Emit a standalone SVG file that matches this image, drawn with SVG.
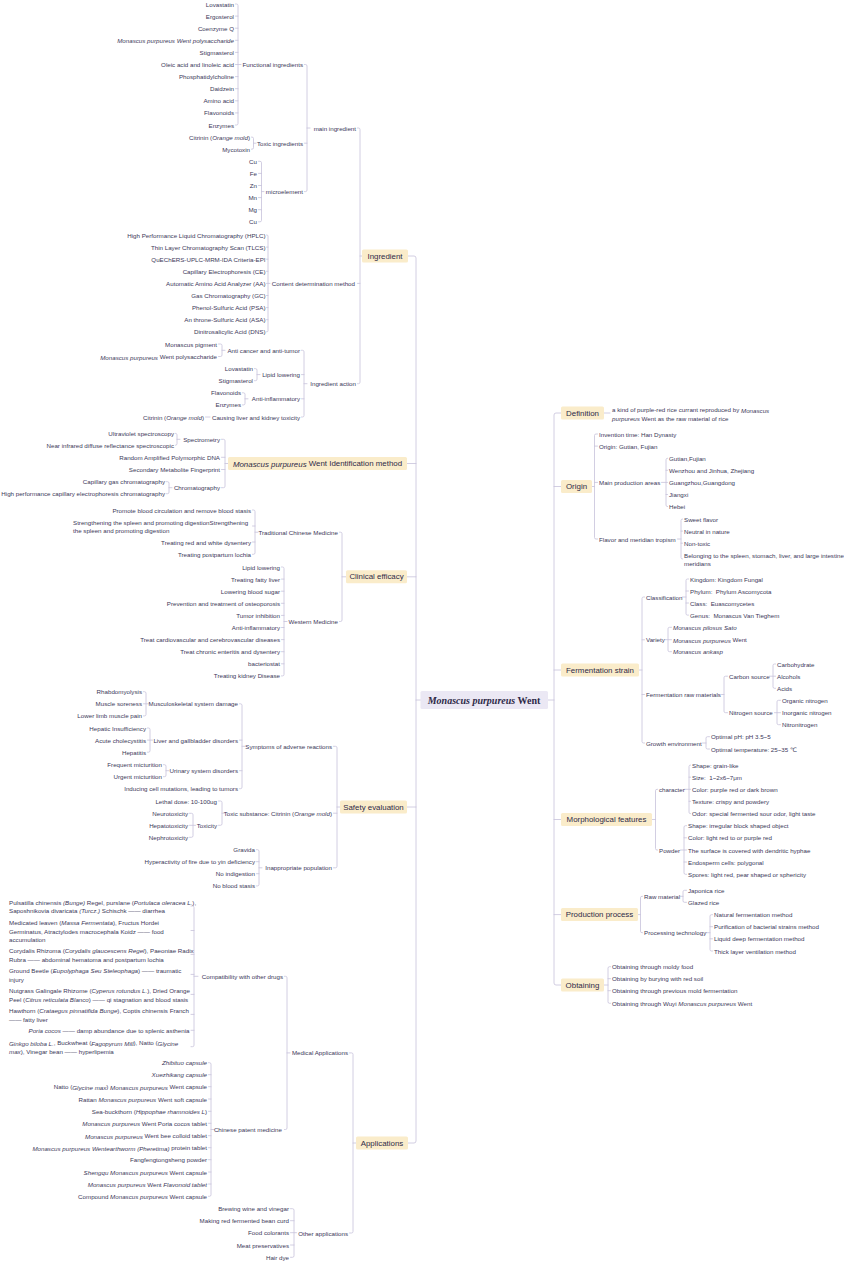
<svg xmlns="http://www.w3.org/2000/svg" width="844" height="1262" viewBox="0 0 844 1262">
<style>
.t{font-family:"Liberation Sans","DejaVu Sans",Arial,sans-serif;font-size:6.2px;fill:#3c3859;dominant-baseline:central}
.e{text-anchor:end}
.m{text-anchor:middle}
.i{font-style:italic}
.b{font-size:7.9px;fill:#2e2a48}
.bx{fill:#faecca}
.cb{fill:#ebe8f4}
.cn{font-family:"Liberation Serif","DejaVu Serif",serif;font-size:10px;font-weight:bold;fill:#2e2a48;text-anchor:middle;dominant-baseline:central}
.c{fill:none;stroke:#c6c1da;stroke-width:0.8;stroke-linecap:round}
</style>
<rect width="844" height="1262" fill="#ffffff"/>
<g id="connectors" class="c">
<path d="M408 256H414Q416 256 416 258V1141Q416 1143 414 1143H408M407 463.5H416M407 576.8H416M407 807H416M416 700H420.5"/>
<path d="M548 700H554M561 413H556Q554 413 554 415V983Q554 985 556 985H561M554 486.5H561M554 670H561M554 819.5H561M554 914.6H561"/>
<path d="M235.5 4H236.5Q238 4 238 5.5V123.5Q238 125 236.5 125H235.5M235.5 16.1H238M235.5 28.2H238M235.5 40.3H238M235.5 52.4H238M235.5 64.5H241M235.5 76.6H238M235.5 88.7H238M235.5 100.8H238M235.5 112.9H238"/>
<path d="M251.5 137.1H252Q253.5 137.1 253.5 138.6V147.7Q253.5 149.2 252 149.2H251.5M253.5 143.2H256"/>
<path d="M258.5 161.3H260Q261.5 161.3 261.5 162.8V220.3Q261.5 221.8 260 221.8H258.5M258.5 173.4H261.5M258.5 185.5H261.5M258.5 197.6H261.5M258.5 209.7H261.5M261.5 191.6H264"/>
<path d="M304.5 64.5H305.5Q307 64.5 307 66V190.1Q307 191.6 305.5 191.6H304.5M304.5 143.2H307M307 128H310"/>
<path d="M357.5 128H358.5Q360 128 360 129.5V382.2Q360 383.7 358.5 383.7H357.5M357.5 283.4H360M360 256H362"/>
<path d="M266.5 235H267Q268 235 268 236V330.8Q268 331.8 267 331.8H266.5M266.5 247.1H268M266.5 259.2H268M266.5 271.3H268M266.5 283.4H270M266.5 295.5H268M266.5 307.6H268M266.5 319.7H268"/>
<path d="M218.5 344H220.5Q222 344 222 345.5V355Q222 356.5 220.5 356.5H218.5M222 350.3H225"/>
<path d="M254.5 368.6H255.5Q257 368.6 257 370.1V379.2Q257 380.7 255.5 380.7H254.5M257 374.6H260"/>
<path d="M242.5 392.8H243.5Q245 392.8 245 394.3V403.4Q245 404.9 243.5 404.9H242.5M245 398.8H248"/>
<path d="M205.5 417H210"/>
<path d="M301.5 350.3H302.5Q304 350.3 304 351.8V415.5Q304 417 302.5 417H301.5M301.5 374.6H304M301.5 398.8H304M304 383.7H307"/>
<path d="M175.5 433.3Q177 433.3 177 434.8V443.8Q177 445.3 175.5 445.3M177 439.3H180"/>
<path d="M166.5 481.7H167.5Q169 481.7 169 483.2V492.2Q169 493.7 167.5 493.7H166.5M169 487.7H172"/>
<path d="M221.5 439.3H223.5Q225 439.3 225 440.8V486.2Q225 487.7 223.5 487.7H221.5M221.5 457.3H225M221.5 469.5H225M225 463.5H228"/>
<path d="M252.5 510H253.5Q255 510 255 511.5V552.8Q255 554.3 253.5 554.3H252.5M252.5 526H255M252.5 542H255M255 532.2H258"/>
<path d="M281.5 567H282.5Q284 567 284 568.5V674.4Q284 675.9 282.5 675.9H281.5M281.5 579.1H284M281.5 591.2H284M281.5 603.3H284M281.5 615.4H284M281.5 627.5H284M281.5 639.6H284M281.5 651.7H284M281.5 663.8H284M284 621.5H287"/>
<path d="M339.5 532.2H340.5Q342 532.2 342 533.7V620Q342 621.5 340.5 621.5H339.5M342 576.8H346"/>
<path d="M143.5 691.7H144.5Q146 691.7 146 693.2V714.4Q146 715.9 144.5 715.9H143.5M143.5 703.8H149"/>
<path d="M147.5 728H148.5Q150 728 150 729.5V750.7Q150 752.2 148.5 752.2H147.5M147.5 740.1H152.5"/>
<path d="M163.5 764.7H164.5Q166 764.7 166 766.2V775.2Q166 776.7 164.5 776.7H163.5M166 770.7H169"/>
<path d="M239.5 703.8H240.5Q242 703.8 242 705.3V787.2Q242 788.7 240.5 788.7H239.5M239.5 740.1H242M239.5 770.7H242M242 746.3H245"/>
<path d="M189.5 813.3H191.5Q193 813.3 193 814.8V835.8Q193 837.3 191.5 837.3H189.5M189.5 825.3H195.5"/>
<path d="M218.5 801H220.5Q222 801 222 802.5V823.8Q222 825.3 220.5 825.3H218.5M222 813.2H224.5"/>
<path d="M256.5 849.7H257.5Q259 849.7 259 851.2V884.4Q259 885.9 257.5 885.9H256.5M256.5 861.7H259M256.5 873.7H259M259 867.8H262"/>
<path d="M333.5 746.3H335.5Q337 746.3 337 747.8V866.3Q337 867.8 335.5 867.8H333.5M333.5 813.2H337M337 807H340"/>
<path d="M191 906H192.5Q194 906 194 907.5V1045.2Q194 1046.7 192.5 1046.7H191M191 930.5H194M191 954.4H194M191 974.4H194M191 994.4H194M191 1014.4H194M191 1030.3H194M194 976.3H198"/>
<path d="M208.5 1062.7H209.5Q211 1062.7 211 1064.2V1194.8Q211 1196.3 209.5 1196.3H208.5M208.5 1074.7H211M208.5 1086.7H211M208.5 1099H211M208.5 1111.3H211M208.5 1123.3H211M208.5 1135.7H211M208.5 1147.7H211M208.5 1159.7H211M208.5 1172H211M208.5 1184H211M211 1129.5H214"/>
<path d="M284.5 976.3H285.5Q287 976.3 287 977.8V1128Q287 1129.5 285.5 1129.5H284.5M287 1052.9H290"/>
<path d="M290.5 1208.7H292.5Q294 1208.7 294 1210.2V1255.8Q294 1257.3 292.5 1257.3H290.5M290.5 1220.7H294M290.5 1232.7H296.5M290.5 1245H294"/>
<path d="M349.5 1052.9H351.5Q353 1052.9 353 1054.4V1231.5Q353 1233 351.5 1233H349.5M353 1143H356"/>
<path d="M604 413H610"/>
<path d="M592 486.5H594.5M597.5 434H596Q594.5 434 594.5 435.5V537.5Q594.5 539 596 539H597.5M594.5 446.1H597.5M594.5 482.4H597.5"/>
<path d="M661.5 482.4H667.5M667.5 458.2Q666 458.2 666 459.7V505.1Q666 506.6 667.5 506.6M666 470.3H667.5M666 494.5H667.5"/>
<path d="M677.5 539H681M682.5 519Q681 519 681 520.5V557.5Q681 559 682.5 559M681 531.1H682.5M681 543.2H682.5"/>
<path d="M639 670H642M644.5 597H643.5Q642 597 642 598.5V741.5Q642 743 643.5 743H644.5M642 639.8H644.5M642 694.5H644.5"/>
<path d="M682.5 597H686M688.5 579H687.5Q686 579 686 580.5V613.6Q686 615.1 687.5 615.1H688.5M686 591H688.5M686 603H688.5"/>
<path d="M665.5 639.7H671.5M671.5 627.3H669.5Q668 627.3 668 628.8V650.2Q668 651.7 669.5 651.7H671.5"/>
<path d="M721.5 694.5H724M727.5 676.2H725.5Q724 676.2 724 677.7V711.2Q724 712.7 725.5 712.7H727.5"/>
<path d="M769.5 676.2H775.5M775.5 664H774.5Q773 664 773 665.5V686.8Q773 688.3 774.5 688.3H775.5"/>
<path d="M774.5 712.7H780.5M780.5 700.3H778.5Q777 700.3 777 701.8V723.2Q777 724.7 778.5 724.7H780.5"/>
<path d="M702.5 743H706M709.5 736.7H707.5Q706 736.7 706 738.2V747.5Q706 749 707.5 749H709.5"/>
<path d="M652 819.5H655.5M657.5 789.3H657Q655.5 789.3 655.5 790.8V848.5Q655.5 850 657 850H657.5"/>
<path d="M684.5 789.3H690.5M690.5 765Q689 765 689 766.5V812.2Q689 813.7 690.5 813.7M689 777.2H690.5M689 801.3H690.5"/>
<path d="M680.5 850H686.5M686.5 825.7H685.5Q684 825.7 684 827.2V872.8Q684 874.3 685.5 874.3H686.5M684 837.8H686.5M684 862H686.5"/>
<path d="M638 914.6H640.5M642.5 896.3H642Q640.5 896.3 640.5 897.8V931.2Q640.5 932.7 642 932.7H642.5"/>
<path d="M680.5 896.3H683M686.5 890.3H684.5Q683 890.3 683 891.8V900.8Q683 902.3 684.5 902.3H686.5"/>
<path d="M706.5 932.7H710M712.5 914.7H711.5Q710 914.7 710 916.2V949.5Q710 951 711.5 951H712.5M710 926.7H712.5M710 938.8H712.5"/>
<path d="M604 985H608M610.5 966.7H609.5Q608 966.7 608 968.2V1001.8Q608 1003.3 609.5 1003.3H610.5M608 978.7H610.5M608 990.7H610.5"/>
</g>
<g id="root"><rect class="cb" x="420.5" y="691" width="127.5" height="18" rx="1.5"/><text class="cn" x="484" y="700"><tspan font-style="italic">Monascus purpureus</tspan> Went</text></g>
<g id="b-ingredient"><rect class="bx" x="362" y="249.5" width="46" height="13" rx="1.5"/><text class="t b m" x="385" y="256">Ingredient</text></g>
<g id="b-ident"><rect class="bx" x="228" y="457" width="179" height="13" rx="1.5"/><text class="t b m" x="317.5" y="463.5"><tspan class="i">Monascus purpureus</tspan> Went Identification method</text></g>
<g id="b-clinical"><rect class="bx" x="346" y="570.3" width="61" height="13" rx="1.5"/><text class="t b m" x="376.5" y="576.8">Clinical efficacy</text></g>
<g id="b-safety"><rect class="bx" x="340" y="800.5" width="67" height="13" rx="1.5"/><text class="t b m" x="373.5" y="807">Safety evaluation</text></g>
<g id="b-applications"><rect class="bx" x="356" y="1136.5" width="52" height="13" rx="1.5"/><text class="t b m" x="382" y="1143">Applications</text></g>
<g id="b-definition"><rect class="bx" x="561" y="406.5" width="43" height="13" rx="1.5"/><text class="t b m" x="582.5" y="413">Definition</text></g>
<g id="b-origin"><rect class="bx" x="561" y="480" width="31" height="13" rx="1.5"/><text class="t b m" x="576.5" y="486.5">Origin</text></g>
<g id="b-fermentation"><rect class="bx" x="561" y="663.5" width="78" height="13" rx="1.5"/><text class="t b m" x="600" y="670">Fermentation strain</text></g>
<g id="b-morph"><rect class="bx" x="561" y="813" width="91" height="13" rx="1.5"/><text class="t b m" x="606.5" y="819.5">Morphological features</text></g>
<g id="b-production"><rect class="bx" x="561" y="908" width="77" height="13" rx="1.5"/><text class="t b m" x="599.5" y="914.6">Production process</text></g>
<g id="b-obtaining"><rect class="bx" x="561" y="978.5" width="43" height="13" rx="1.5"/><text class="t b m" x="582.5" y="985">Obtaining</text></g>
<g id="n-main"><text class="t e" x="356" y="128">main ingredient</text></g>
<g id="n-functional"><text class="t e" x="303" y="64.5">Functional ingredients</text></g>
<g id="n-f1"><text class="t e" x="234" y="4">Lovastatin</text></g>
<g id="n-f2"><text class="t e" x="234" y="16.1">Ergosterol</text></g>
<g id="n-f3"><text class="t e" x="234" y="28.2">Coenzyme Q</text></g>
<g id="n-f4"><text class="t e i" x="234" y="40.3">Monascus purpureus Went polysaccharide</text></g>
<g id="n-f5"><text class="t e" x="234" y="52.4">Stigmasterol</text></g>
<g id="n-f6"><text class="t e" x="234" y="64.5">Oleic acid and linoleic acid</text></g>
<g id="n-f7"><text class="t e" x="234" y="76.6">Phosphatidylcholine</text></g>
<g id="n-f8"><text class="t e" x="234" y="88.7">Daidzein</text></g>
<g id="n-f9"><text class="t e" x="234" y="100.8">Amino acid</text></g>
<g id="n-f10"><text class="t e" x="234" y="112.9">Flavonoids</text></g>
<g id="n-f11"><text class="t e" x="234" y="125">Enzymes</text></g>
<g id="n-toxic"><text class="t e" x="303" y="143.2">Toxic ingredients</text></g>
<g id="n-t1"><text class="t e" x="250" y="137.1">Citrinin (<tspan class="i">Orange mold</tspan>)</text></g>
<g id="n-t2"><text class="t e" x="250" y="149.2">Mycotoxin</text></g>
<g id="n-micro"><text class="t e" x="303" y="191.6">microelement</text></g>
<g id="n-m1"><text class="t e" x="257" y="161.3">Cu</text></g>
<g id="n-m2"><text class="t e" x="257" y="173.4">Fe</text></g>
<g id="n-m3"><text class="t e" x="257" y="185.5">Zn</text></g>
<g id="n-m4"><text class="t e" x="257" y="197.6">Mn</text></g>
<g id="n-m5"><text class="t e" x="257" y="209.7">Mg</text></g>
<g id="n-m6"><text class="t e" x="257" y="221.8">Cu</text></g>
<g id="n-content"><text class="t e" x="355" y="283.4">Content determination method</text></g>
<g id="n-c1"><text class="t e" x="265.5" y="235">High Performance Liquid Chromatography (HPLC)</text></g>
<g id="n-c2"><text class="t e" x="265.5" y="247.1">Thin Layer Chromatography Scan (TLCS)</text></g>
<g id="n-c3"><text class="t e" x="265.5" y="259.2">QuEChERS-UPLC-MRM-IDA Criteria-EPI</text></g>
<g id="n-c4"><text class="t e" x="265.5" y="271.3">Capillary Electrophoresis (CE)</text></g>
<g id="n-c5"><text class="t e" x="265.5" y="283.4">Automatic Amino Acid Analyzer (AA)</text></g>
<g id="n-c6"><text class="t e" x="265.5" y="295.5">Gas Chromatography (GC)</text></g>
<g id="n-c7"><text class="t e" x="265.5" y="307.6">Phenol-Sulfuric Acid (PSA)</text></g>
<g id="n-c8"><text class="t e" x="265.5" y="319.7">An throne-Sulfuric Acid (ASA)</text></g>
<g id="n-c9"><text class="t e" x="265.5" y="331.8">Dinitrosalicylic Acid (DNS)</text></g>
<g id="n-action"><text class="t e" x="356" y="383.7">Ingredient action</text></g>
<g id="n-a1"><text class="t e" x="300" y="350.3">Anti cancer and anti-tumor</text></g>
<g id="n-a1a"><text class="t e" x="217" y="344">Monascus pigment</text></g>
<g id="n-a1b"><text class="t e" x="217" y="356.5"><tspan class="i">Monascus purpureus</tspan> Went polysaccharide</text></g>
<g id="n-a2"><text class="t e" x="300" y="374.6">Lipid lowering</text></g>
<g id="n-a2a"><text class="t e" x="253" y="368.6">Lovastatin</text></g>
<g id="n-a2b"><text class="t e" x="253" y="380.7">Stigmasterol</text></g>
<g id="n-a3"><text class="t e" x="300" y="398.8">Anti-inflammatory</text></g>
<g id="n-a3a"><text class="t e" x="241" y="392.8">Flavonoids</text></g>
<g id="n-a3b"><text class="t e" x="241" y="404.9">Enzymes</text></g>
<g id="n-a4"><text class="t e" x="300" y="417">Causing liver and kidney toxicity</text></g>
<g id="n-a4a"><text class="t e" x="204" y="417">Citrinin (<tspan class="i">Orange mold</tspan>)</text></g>
<g id="n-spectro"><text class="t e" x="220" y="439.3">Spectrometry</text></g>
<g id="n-s1"><text class="t e" x="174" y="433.3">Ultraviolet spectroscopy</text></g>
<g id="n-s2"><text class="t e" x="174" y="445.3">Near infrared diffuse reflectance spectroscopic</text></g>
<g id="n-rapd"><text class="t e" x="220" y="457.3">Random Amplified Polymorphic DNA</text></g>
<g id="n-smf"><text class="t e" x="220" y="469.5">Secondary Metabolite Fingerprint</text></g>
<g id="n-chrom"><text class="t e" x="220" y="487.7">Chromatography</text></g>
<g id="n-ch1"><text class="t e" x="165" y="481.7">Capillary gas chromatography</text></g>
<g id="n-ch2"><text class="t e" x="165" y="493.7">High performance capillary electrophoresis chromatography</text></g>
<g id="n-tcm"><text class="t e" x="338" y="532.2">Traditional Chinese Medicine</text></g>
<g id="n-tcm1"><text class="t e" x="251" y="510">Promote blood circulation and remove blood stasis</text></g>
<g id="n-tcm2"><text class="t" x="73" y="522.2">Strengthening the spleen and promoting digestionStrengthening<tspan x="73" dy="8.1">the spleen and promoting digestion</tspan></text></g>
<g id="n-tcm3"><text class="t e" x="251" y="542">Treating red and white dysentery</text></g>
<g id="n-tcm4"><text class="t e" x="251" y="554.3">Treating postpartum lochia</text></g>
<g id="n-western"><text class="t e" x="338" y="621.5">Western Medicine</text></g>
<g id="n-w1"><text class="t e" x="280" y="567">Lipid lowering</text></g>
<g id="n-w2"><text class="t e" x="280" y="579.1">Treating fatty liver</text></g>
<g id="n-w3"><text class="t e" x="280" y="591.2">Lowering blood sugar</text></g>
<g id="n-w4"><text class="t e" x="280" y="603.3">Prevention and treatment of osteoporosis</text></g>
<g id="n-w5"><text class="t e" x="280" y="615.4">Tumor inhibition</text></g>
<g id="n-w6"><text class="t e" x="280" y="627.5">Anti-inflammatory</text></g>
<g id="n-w7"><text class="t e" x="280" y="639.6">Treat cardiovascular and cerebrovascular diseases</text></g>
<g id="n-w8"><text class="t e" x="280" y="651.7">Treat chronic enteritis and dysentery</text></g>
<g id="n-w9"><text class="t e" x="280" y="663.8">bacteriostat</text></g>
<g id="n-w10"><text class="t e" x="280" y="675.9">Treating kidney Disease</text></g>
<g id="n-symptoms"><text class="t e" x="332" y="746.3">Symptoms of adverse reactions</text></g>
<g id="n-musc"><text class="t e" x="238" y="703.8">Musculoskeletal system damage</text></g>
<g id="n-mu1"><text class="t e" x="142" y="691.7">Rhabdomyolysis</text></g>
<g id="n-mu2"><text class="t e" x="142" y="703.8">Muscle soreness</text></g>
<g id="n-mu3"><text class="t e" x="142" y="715.9">Lower limb muscle pain</text></g>
<g id="n-liver"><text class="t e" x="238" y="740.1">Liver and gallbladder disorders</text></g>
<g id="n-li1"><text class="t e" x="146" y="728">Hepatic Insufficiency</text></g>
<g id="n-li2"><text class="t e" x="146" y="740.1">Acute cholecystitis</text></g>
<g id="n-li3"><text class="t e" x="146" y="752.2">Hepatitis</text></g>
<g id="n-urinary"><text class="t e" x="238" y="770.7">Urinary system disorders</text></g>
<g id="n-u1"><text class="t e" x="162" y="764.7">Frequent micturition</text></g>
<g id="n-u2"><text class="t e" x="162" y="776.7">Urgent micturition</text></g>
<g id="n-induce"><text class="t e" x="238" y="788.7">Inducing cell mutations, leading to tumors</text></g>
<g id="n-toxsub"><text class="t e" x="332" y="813.2">Toxic substance: Citrinin (<tspan class="i">Orange mold</tspan>)</text></g>
<g id="n-lethal"><text class="t e" x="217" y="801">Lethal dose: 10-100ug</text></g>
<g id="n-toxicity"><text class="t e" x="217" y="825.3">Toxicity</text></g>
<g id="n-tx1"><text class="t e" x="188" y="813.3">Neurotoxicity</text></g>
<g id="n-tx2"><text class="t e" x="188" y="825.3">Hepatotoxicity</text></g>
<g id="n-tx3"><text class="t e" x="188" y="837.3">Nephrotoxicity</text></g>
<g id="n-inapp"><text class="t e" x="332" y="867.8">Inappropriate population</text></g>
<g id="n-in1"><text class="t e" x="255" y="849.7">Gravida</text></g>
<g id="n-in2"><text class="t e" x="255" y="861.7">Hyperactivity of fire due to yin deficiency</text></g>
<g id="n-in3"><text class="t e" x="255" y="873.7">No indigestion</text></g>
<g id="n-in4"><text class="t e" x="255" y="885.9">No blood stasis</text></g>
<g id="n-medical"><text class="t e" x="348" y="1052.9">Medical Applications</text></g>
<g id="n-compat"><text class="t e" x="283" y="976.3">Compatibility with other drugs</text></g>
<g id="n-cp1"><text class="t" x="9" y="902">Pulsatilla chinensis <tspan class="i">(Bunge)</tspan> Regel, purslane (<tspan class="i">Portulaca oleracea L.</tspan>),<tspan x="9" dy="8.2">Saposhnikovia divaricata <tspan class="i">(Turcz.)</tspan> Schischk —— diarrhea</tspan></text></g>
<g id="n-cp2"><text class="t" x="9" y="922.3">Medicated leaven (<tspan class="i">Massa Fermentata</tspan>), Fructus Hordei<tspan x="9" dy="8.2">Germinatus, Atractylodes macrocephala Koidz —— food</tspan><tspan x="9" dy="8.2">accumulation</tspan></text></g>
<g id="n-cp3"><text class="t" x="9" y="950.3">Corydalis Rhizoma (<tspan class="i">Corydalis glaucescens Regel</tspan>), Paeoniae Radix<tspan x="9" dy="8.2">Rubra —— abdominal hematoma and postpartum lochia</tspan></text></g>
<g id="n-cp4"><text class="t" x="9" y="970.3">Ground Beetle (<tspan class="i">Eupolyphaga Seu Steleophaga</tspan>) —— traumatic<tspan x="9" dy="8.2">injury</tspan></text></g>
<g id="n-cp5"><text class="t" x="9" y="990.3">Nutgrass Galingale Rhizome (<tspan class="i">Cyperus rotundus L.</tspan>), Dried Orange<tspan x="9" dy="8.2">Peel (<tspan class="i">Citrus reticulata Blanco</tspan>) —— qi stagnation and blood stasis</tspan></text></g>
<g id="n-cp6"><text class="t" x="9" y="1010.3">Hawthorn (<tspan class="i">Crataegus pinnatifida Bunge</tspan>), Coptis chinensis Franch<tspan x="9" dy="8.2">—— fatty liver</tspan></text></g>
<g id="n-cp7"><text class="t e" x="189.5" y="1030.3"><tspan class="i">Poria cocos</tspan> —— damp abundance due to splenic asthenia</text></g>
<g id="n-cp8"><text class="t" x="9" y="1042.7"><tspan class="i">Ginkgo biloba L.</tspan>, Buckwheat (<tspan class="i">Fagopyrum Mill</tspan>), Natto (<tspan class="i">Glycine</tspan><tspan x="9" dy="8.2"><tspan class="i">max</tspan>), Vinegar bean —— hyperlipemia</tspan></text></g>
<g id="n-patent"><text class="t e" x="282" y="1129.5">Chinese patent medicine</text></g>
<g id="n-p1"><text class="t e i" x="207" y="1062.7">Zhibituo capsule</text></g>
<g id="n-p2"><text class="t e i" x="207" y="1074.7">Xuezhikang capsule</text></g>
<g id="n-p3"><text class="t e" x="207" y="1086.7">Natto (<tspan class="i">Glycine max</tspan>) <tspan class="i">Monascus purpureus</tspan> Went capsule</text></g>
<g id="n-p4"><text class="t e" x="207" y="1099">Rattan <tspan class="i">Monascus purpureus</tspan> Went soft capsule</text></g>
<g id="n-p5"><text class="t e" x="207" y="1111.3">Sea-buckthorn (<tspan class="i">Hippophae rhamnoides L</tspan>)</text></g>
<g id="n-p6"><text class="t e" x="207" y="1123.3"><tspan class="i">Monascus purpureus</tspan> Went Poria cocos tablet</text></g>
<g id="n-p7"><text class="t e" x="207" y="1135.7"><tspan class="i">Monascus purpureus</tspan> Went bee colloid tablet</text></g>
<g id="n-p8"><text class="t e" x="207" y="1147.7"><tspan class="i">Monascus purpureus Wentearthworm (Pheretima)</tspan> protein tablet</text></g>
<g id="n-p9"><text class="t e" x="207" y="1159.7">Fangfengtongsheng powder</text></g>
<g id="n-p10"><text class="t e" x="207" y="1172"><tspan class="i">Shengqu Monascus purpureus</tspan> Went capsule</text></g>
<g id="n-p11"><text class="t e" x="207" y="1184"><tspan class="i">Monascus purpureus</tspan> Went <tspan class="i">Flavonoid tablet</tspan></text></g>
<g id="n-p12"><text class="t e" x="207" y="1196.3">Compound <tspan class="i">Monascus purpureus</tspan> Went capsule</text></g>
<g id="n-other"><text class="t e" x="348" y="1233">Other applications</text></g>
<g id="n-o1"><text class="t e" x="289" y="1208.7">Brewing wine and vinegar</text></g>
<g id="n-o2"><text class="t e" x="289" y="1220.7">Making red fermented bean curd</text></g>
<g id="n-o3"><text class="t e" x="289" y="1232.7">Food colorants</text></g>
<g id="n-o4"><text class="t e" x="289" y="1245">Meat preservatives</text></g>
<g id="n-o5"><text class="t e" x="289" y="1257.3">Hair dye</text></g>
<g id="n-def"><text class="t" x="612" y="409.8">a kind of purple-red rice currant reproduced by <tspan class="i">Monascus</tspan><tspan x="612" dy="8.1"><tspan class="i">purpureus</tspan> Went as the raw material of rice</tspan></text></g>
<g id="n-or1"><text class="t" x="599" y="434">Invention time: Han Dynasty</text></g>
<g id="n-or2"><text class="t" x="599" y="446.1">Origin: Gutian, Fujian</text></g>
<g id="n-or3"><text class="t" x="599" y="482.4">Main production areas</text></g>
<g id="n-pa1"><text class="t" x="669" y="458.2">Gutian,Fujian</text></g>
<g id="n-pa2"><text class="t" x="669" y="470.3">Wenzhou and Jinhua, Zhejiang</text></g>
<g id="n-pa3"><text class="t" x="669" y="482.4">Guangzhou,Guangdong</text></g>
<g id="n-pa4"><text class="t" x="669" y="494.5">Jiangxi</text></g>
<g id="n-pa5"><text class="t" x="669" y="506.6">Hebei</text></g>
<g id="n-or4"><text class="t" x="599" y="539">Flavor and meridian tropism</text></g>
<g id="n-fl1"><text class="t" x="684" y="519">Sweet flavor</text></g>
<g id="n-fl2"><text class="t" x="684" y="531.1">Neutral in nature</text></g>
<g id="n-fl3"><text class="t" x="684" y="543.2">Non-toxic</text></g>
<g id="n-fl4"><text class="t" x="684" y="555">Belonging to the spleen, stomach, liver, and large intestine<tspan x="684" dy="8.1">meridians</tspan></text></g>
<g id="n-class"><text class="t" x="646" y="597">Classification</text></g>
<g id="n-cl1"><text class="t" x="690" y="579">Kingdom: Kingdom Fungal</text></g>
<g id="n-cl2"><text class="t" x="690" y="591">Phylum:&#160; Phylum Ascomycota</text></g>
<g id="n-cl3"><text class="t" x="690" y="603">Class:&#160; Euascomycetes</text></g>
<g id="n-cl4"><text class="t" x="690" y="615.1">Genus:&#160; Monascus Van Tieghem</text></g>
<g id="n-variety"><text class="t" x="646" y="639.7">Variety</text></g>
<g id="n-v1"><text class="t i" x="673" y="627.3">Monascus pilosus Sato</text></g>
<g id="n-v2"><text class="t" x="673" y="639.7"><tspan class="i">Monascus purpureus</tspan> Went</text></g>
<g id="n-v3"><text class="t i" x="673" y="651.7">Monascus ankasp</text></g>
<g id="n-raw"><text class="t" x="646" y="694.5">Fermentation raw materials</text></g>
<g id="n-carbon"><text class="t" x="729" y="676.2">Carbon source</text></g>
<g id="n-cb1"><text class="t" x="777" y="664">Carbohydrate</text></g>
<g id="n-cb2"><text class="t" x="777" y="676.2">Alcohols</text></g>
<g id="n-cb3"><text class="t" x="777" y="688.3">Acids</text></g>
<g id="n-nitrogen"><text class="t" x="729" y="712.7">Nitrogen source</text></g>
<g id="n-ni1"><text class="t" x="782" y="700.3">Organic nitrogen</text></g>
<g id="n-ni2"><text class="t" x="782" y="712.7">Inorganic nitrogen</text></g>
<g id="n-ni3"><text class="t" x="782" y="724.7">Nitronitrogen</text></g>
<g id="n-growth"><text class="t" x="646" y="743">Growth environment</text></g>
<g id="n-g1"><text class="t" x="711" y="736.7">Optimal pH: pH 3.5~5</text></g>
<g id="n-g2"><text class="t" x="711" y="749">Optimal temperature: 25~35 ℃</text></g>
<g id="n-character"><text class="t" x="659" y="789.3">character</text></g>
<g id="n-ch-1"><text class="t" x="692" y="765">Shape: grain-like</text></g>
<g id="n-ch-2"><text class="t" x="692" y="777.2">Size:&#160; 1~2x6~7μm</text></g>
<g id="n-ch-3"><text class="t" x="692" y="789.3">Color: purple red or dark brown</text></g>
<g id="n-ch-4"><text class="t" x="692" y="801.3">Texture: crispy and powdery</text></g>
<g id="n-ch-5"><text class="t" x="692" y="813.7">Odor: special fermented sour odor, light taste</text></g>
<g id="n-powder"><text class="t" x="659" y="850">Powder</text></g>
<g id="n-pw1"><text class="t" x="688" y="825.7">Shape: irregular block shaped object</text></g>
<g id="n-pw2"><text class="t" x="688" y="837.8">Color: light red to or purple red</text></g>
<g id="n-pw3"><text class="t" x="688" y="850">The surface is covered with dendritic hyphae</text></g>
<g id="n-pw4"><text class="t" x="688" y="862">Endosperm cells: polygonal</text></g>
<g id="n-pw5"><text class="t" x="688" y="874.3">Spores: light red, pear shaped or sphericity</text></g>
<g id="n-rawmat"><text class="t" x="644" y="896.3">Raw material</text></g>
<g id="n-rm1"><text class="t" x="688" y="890.3">Japonica rice</text></g>
<g id="n-rm2"><text class="t" x="688" y="902.3">Glazed rice</text></g>
<g id="n-proc"><text class="t" x="644" y="932.7">Processing technology</text></g>
<g id="n-pr1"><text class="t" x="714" y="914.7">Natural fermentation method</text></g>
<g id="n-pr2"><text class="t" x="714" y="926.7">Purification of bacterial strains method</text></g>
<g id="n-pr3"><text class="t" x="714" y="938.8">Liquid deep fermentation method</text></g>
<g id="n-pr4"><text class="t" x="714" y="951">Thick layer ventilation method</text></g>
<g id="n-ob1"><text class="t" x="612" y="966.7">Obtaining through moldy food</text></g>
<g id="n-ob2"><text class="t" x="612" y="978.7">Obtaining by burying with red soil</text></g>
<g id="n-ob3"><text class="t" x="612" y="990.7">Obtaining through previous mold fermentation</text></g>
<g id="n-ob4"><text class="t" x="612" y="1003.3">Obtaining through Wuyi <tspan class="i">Monascus purpureus</tspan> Went</text></g>
</svg>
